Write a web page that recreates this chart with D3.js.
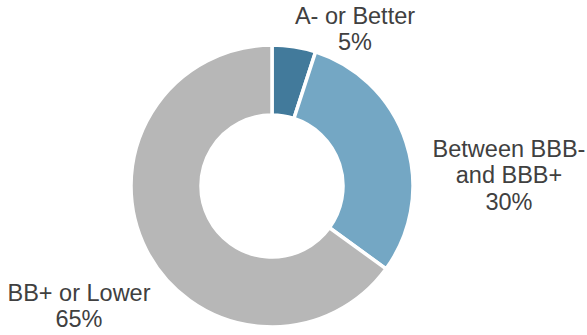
<!DOCTYPE html>
<html>
<head>
<meta charset="utf-8">
<script src="https://cdn.jsdelivr.net/npm/d3@7"></script>
<style>
  html, body { margin: 0; padding: 0; background: #fff; }
  svg { display: block; }
</style>
</head>
<body>
<div id="chart"></div>
<script>
const WIDTH = 587;
const HEIGHT = 335;

// data
const categories = ["A- or Better", "Between BBB-\nand BBB+", "BB+ or Lower"];
const shares = [5, 30, 65];
const colors = ["#427a9b", "#74a7c4", "#b7b7b7"];

// layout of the donut and its labels (centre of each label block)
const CX = 272;
const CY = 186;
const OUTER = 141;
const INNER = 71;
const labelPos = [
  { x: 355, y: 29 },
  { x: 509, y: 175 },
  { x: 79, y: 306 },
];
const FONT_SIZE = 23.5;
const LINE_H = 26.5;

const svg = d3.select("#chart")
  .append("svg")
  .attr("width", WIDTH)
  .attr("height", HEIGHT);

const pie = d3.pie().sort(null).value((d) => d);
const arc = d3.arc().innerRadius(INNER).outerRadius(OUTER);
const arcs = pie(shares);

const g = svg.append("g").attr("transform", `translate(${CX},${CY})`);

g.selectAll("path")
  .data(arcs)
  .join("path")
  .attr("d", arc)
  .attr("fill", (d, i) => colors[i])
  .attr("stroke", "#fff")
  .attr("stroke-width", 3.5)
  .attr("stroke-linejoin", "miter");

const labels = svg.append("g")
  .attr("font-family", "Liberation Sans, Arial, sans-serif")
  .attr("font-size", FONT_SIZE)
  .attr("fill", "#404040")
  .attr("text-anchor", "middle");

arcs.forEach((a, i) => {
  const lines = categories[i].split("\n").concat([`${shares[i]}%`]);
  const pos = labelPos[i];
  const top = pos.y - ((lines.length - 1) * LINE_H) / 2;
  const t = labels.append("text");
  lines.forEach((line, j) => {
    t.append("tspan")
      .attr("x", pos.x)
      .attr("y", top + j * LINE_H)
      .attr("dy", "0.35em")
      .text(line);
  });
});
</script>
</body>
</html>
